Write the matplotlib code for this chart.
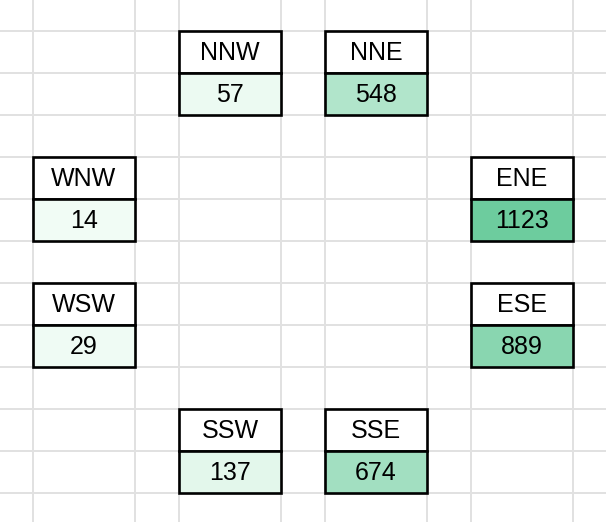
import matplotlib.pyplot as plt
from matplotlib.colors import LinearSegmentedColormap, Normalize
from matplotlib.patches import Rectangle

# wind directions and their counts
directions = ['NNW', 'NNE', 'WNW', 'ENE', 'WSW', 'ESE', 'SSW', 'SSE']
counts = [57, 548, 14, 1123, 29, 889, 137, 674]

# where each block sits in the sheet (column index, header row index)
grid_cols = [3, 5, 1, 7, 1, 7, 3, 5]
grid_rows = [1, 1, 4, 4, 7, 7, 10, 10]

# sheet geometry in pixels
col_edges = [0, 33, 135, 179, 281, 325, 427, 471, 573, 606]
row_edges = [0] + [31 + 42 * i for i in range(13)]

plt.rcParams['font.family'] = ['Liberation Sans', 'DejaVu Sans']

fig = plt.figure(figsize=(6.06, 5.22), dpi=100)
ax = fig.add_axes([0, 0, 1, 1])
ax.set_xlim(0, 606)
ax.set_ylim(522, 0)
ax.axis('off')

# spreadsheet gridlines
for x in col_edges[1:-1]:
    ax.axvline(x, color='#e1e1e1', lw=1.4, zorder=1)
for y in row_edges[1:]:
    ax.axhline(y, color='#e1e1e1', lw=1.4, zorder=1)

# colour scale like the sheet's conditional formatting
cmap = LinearSegmentedColormap.from_list('sheet', ['#f1fcf5', '#6dcc9e'])
norm = Normalize(vmin=min(counts), vmax=max(counts))

for name, val, c, r in zip(directions, counts, grid_cols, grid_rows):
    x0, x1 = col_edges[c], col_edges[c + 1]
    y0, y1, y2 = row_edges[r], row_edges[r + 1], row_edges[r + 2]
    ax.add_patch(Rectangle((x0, y0), x1 - x0, y1 - y0, facecolor='white',
                           edgecolor='black', lw=1.9, zorder=3))
    ax.add_patch(Rectangle((x0, y1), x1 - x0, y2 - y1, facecolor=cmap(norm(val)),
                           edgecolor='black', lw=1.9, zorder=3))
    ax.text((x0 + x1) / 2, (y0 + y1) / 2 + 1, name, ha='center', va='center',
            fontsize=18, color='black', zorder=4)
    ax.text((x0 + x1) / 2, (y1 + y2) / 2 + 1, str(val), ha='center', va='center',
            fontsize=18, color='black', zorder=4)

fig.savefig('out.png', dpi=100)
